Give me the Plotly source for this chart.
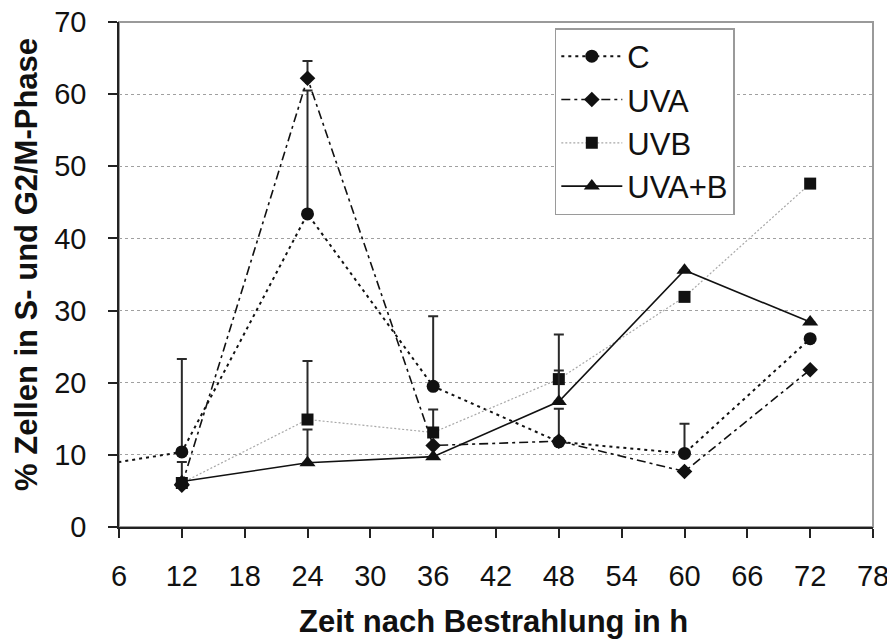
import plotly.graph_objects as go

# ---- data ----
hours = [12, 24, 36, 48, 60, 72]
c_hours = [0, 12, 24, 36, 48, 60, 72]
c_vals = [7.6, 10.4, 43.4, 19.5, 11.8, 10.2, 26.1]
c_err = [0, 12.9, 17.1, 9.7, 4.6, 4.1, 0]
uva_vals = [5.8, 62.2, 11.3, 11.9, 7.7, 21.8]
uva_err = [0, 2.4, 0, 0, 0, 0]
uvb_vals = [6.1, 14.9, 13.1, 20.5, 31.9, 47.6]
uvb_err = [2.9, 8.1, 3.2, 6.2, 0, 0]
uvab_vals = [6.3, 8.9, 9.75, 17.4, 35.6, 28.4]
uvab_err = [0, 4.6, 0, 4.3, 0, 0]
x_ticks = [6, 12, 18, 24, 30, 36, 42, 48, 54, 60, 66, 72, 78]
y_ticks = [0, 10, 20, 30, 40, 50, 60, 70]
x_title = "Zeit nach Bestrahlung in h"
y_title = "% Zellen in S- und G2/M-Phase"

FONT = "Liberation Sans, Arial, sans-serif"
INK = "#111111"
ERRC = "#2a2a2a"


def err(vals):
    return dict(type="data", array=vals, arrayminus=[0] * len(vals), symmetric=False,
                color=ERRC, thickness=2, width=5, visible=True)


fig = go.Figure()
fig.add_trace(go.Scatter(x=c_hours, y=c_vals, name="C", mode="lines+markers",
                         line=dict(color=INK, width=2, dash="3px,4px"),
                         marker=dict(symbol="circle", size=13, color=INK),
                         error_y=err(c_err)))
fig.add_trace(go.Scatter(x=hours, y=uva_vals, name="UVA", mode="lines+markers",
                         line=dict(color=INK, width=1.6, dash="9px,4px,3px,4px"),
                         marker=dict(symbol="diamond", size=12, color=INK),
                         error_y=err(uva_err)))
fig.add_trace(go.Scatter(x=hours, y=uvb_vals, name="UVB", mode="lines+markers",
                         line=dict(color="#a8a8a8", width=1.2, dash="2px,2px"),
                         marker=dict(symbol="square", size=12, color=INK),
                         error_y=err(uvb_err)))
fig.add_trace(go.Scatter(x=hours, y=uvab_vals, name="UVA+B", mode="lines+markers",
                         line=dict(color=INK, width=1.6),
                         marker=dict(symbol="triangle-up", size=14, color=INK),
                         error_y=err(uvab_err)))

# page body adds an 8px offset; size the figure so the plot lands where the reference has it
fig.update_layout(
    template="none",
    width=887, height=635,
    margin=dict(l=111, r=22, t=14, b=116, autoexpand=False),
    paper_bgcolor="white", plot_bgcolor="white",
    font=dict(family=FONT, size=29, color=INK),
    showlegend=True,
    legend=dict(x=0.578, y=0.988, xanchor="left", yanchor="top",
                bgcolor="white", bordercolor="#9a9a9a", borderwidth=1.5,
                font=dict(size=31, color=INK), itemwidth=61,
                traceorder="normal"),
    shapes=[dict(type="rect", xref="paper", yref="paper", x0=0, y0=0, x1=1, y1=1,
                 line=dict(color="#9a9a9a", width=2), layer="below")],
    annotations=[
        dict(text="<b>" + x_title + "</b>", xref="paper", yref="paper", x=0.497, y=-0.188,
             xanchor="center", yanchor="middle", showarrow=False,
             font=dict(size=31, family=FONT, color=INK)),
        dict(text="<b>" + y_title + "</b>", xref="paper", yref="paper", x=-0.122, y=0.519,
             xanchor="center", yanchor="middle", showarrow=False, textangle=-90,
             font=dict(size=31, family=FONT, color=INK)),
    ],
)
fig.update_xaxes(range=[6, 78], tickmode="array", tickvals=x_ticks,
                 ticktext=[str(v) for v in x_ticks], automargin=False,
                 showgrid=False, zeroline=False, showline=True, linecolor="#222222", linewidth=1.6,
                 ticks="outside", ticklen=9, tickwidth=1.5, tickcolor="#222222",
                 ticklabelstandoff=13, ticklabeloverflow="allow",
                 tickfont=dict(size=29, family=FONT, color=INK))
fig.update_yaxes(range=[0, 70], tickmode="array", tickvals=y_ticks,
                 ticktext=[str(v) for v in y_ticks], automargin=False,
                 showgrid=True, gridcolor="#a0a0a0", griddash="3px,3px", gridwidth=1,
                 zeroline=False, showline=True, linecolor="#222222", linewidth=1.6,
                 ticks="outside", ticklen=9, tickwidth=1.5, tickcolor="#222222",
                 ticklabelstandoff=16, ticklabeloverflow="allow",
                 tickfont=dict(size=29, family=FONT, color=INK))

fig.write_html("out.html")
